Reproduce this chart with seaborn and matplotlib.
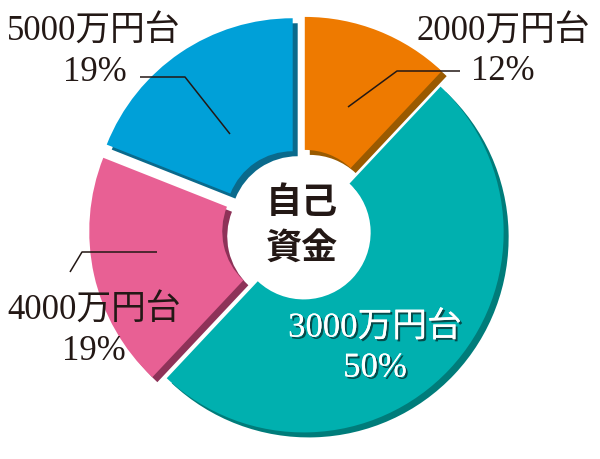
import matplotlib
matplotlib.use("Agg")
import matplotlib.pyplot as plt
import matplotlib.transforms as mtransforms
import matplotlib.patheffects as pe
import seaborn as sns

# ---- data ----
categories = ["2000万円台", "3000万円台", "4000万円台", "5000万円台"]
shares = [12, 50, 19, 19]
pct_labels = ["12%", "50%", "19%", "19%"]
center_lines = ["自己", "資金"]

# ---- style ----
colors = ["#EE7A00", "#00B0AF", "#E86094", "#00A0D8"]
shadow_colors = ["#9A5A00", "#007C7A", "#8E3258", "#0A6A8C"]
explode = [0.065, 0.025, 0.055, 0.065]
sns.set_theme(style="white")
FONT = ["Liberation Serif", "Noto Sans CJK JP", "DejaVu Sans"]
plt.rcParams["font.family"] = FONT
INK = "#231815"

W, H = 600, 460
CX, CY, R = 300, 230, 200

fig = plt.figure(figsize=(6, 4.6), dpi=100)
ax = fig.add_axes([0, 0, 1, 1])


def P(px, py):
    return ((px - CX) / R, (CY - py) / R)


# shadow layer
shadow_tr = ax.transData + mtransforms.ScaledTranslation(5 / 100, -5 / 100, fig.dpi_scale_trans)
sw, _ = ax.pie(shares, colors=shadow_colors, explode=explode, startangle=90,
               counterclock=False, radius=1.0,
               wedgeprops=dict(width=0.665, linewidth=0))
for w in sw:
    w.set_transform(shadow_tr)

# main layer
mw, _ = ax.pie(shares, colors=colors, explode=explode, startangle=90,
               counterclock=False, radius=1.0,
               wedgeprops=dict(width=0.665, linewidth=0))

ax.set_xlim(-CX / R, (W - CX) / R)
ax.set_ylim(-(H - CY) / R, CY / R)
ax.set_aspect("auto")
ax.axis("off")

# leader lines
leaders = [
    [(348, 108), (397, 72), (460, 72)],
    [(230, 135), (185, 78), (140, 78)],
    [(70, 273), (82, 253), (157, 253)],
]
for pts in leaders:
    xs, ys = zip(*[P(*p) for p in pts])
    ax.plot(xs, ys, color=INK, lw=1.1, solid_capstyle="butt", zorder=5)

FS = 25

def label(px, py, s, color=INK, effects=None, weight="normal", size=FS):
    x, y = P(px, py)
    ax.text(x, y, s, ha="center", va="center", fontsize=size, color=color,
            family=FONT, weight=weight, path_effects=effects, zorder=6)

# label positions (pixel centres)
label(503, 32, categories[0])
label(503, 72, pct_labels[0])

shadow_fx = [pe.withSimplePatchShadow(offset=(1.5, -1.5), shadow_rgbFace="#083030", alpha=0.8), pe.Normal()]
label(375, 329, categories[1], color="white", effects=shadow_fx)
label(375, 369, pct_labels[1], color="white", effects=shadow_fx)

label(94, 311, categories[2])
label(94, 352, pct_labels[2])

label(94, 32, categories[3])
label(95, 73, pct_labels[3])

label(302, 204, center_lines[0], weight="bold", size=26)
label(302, 250, center_lines[1], weight="bold", size=26)

fig.savefig("out.png", dpi=100)
